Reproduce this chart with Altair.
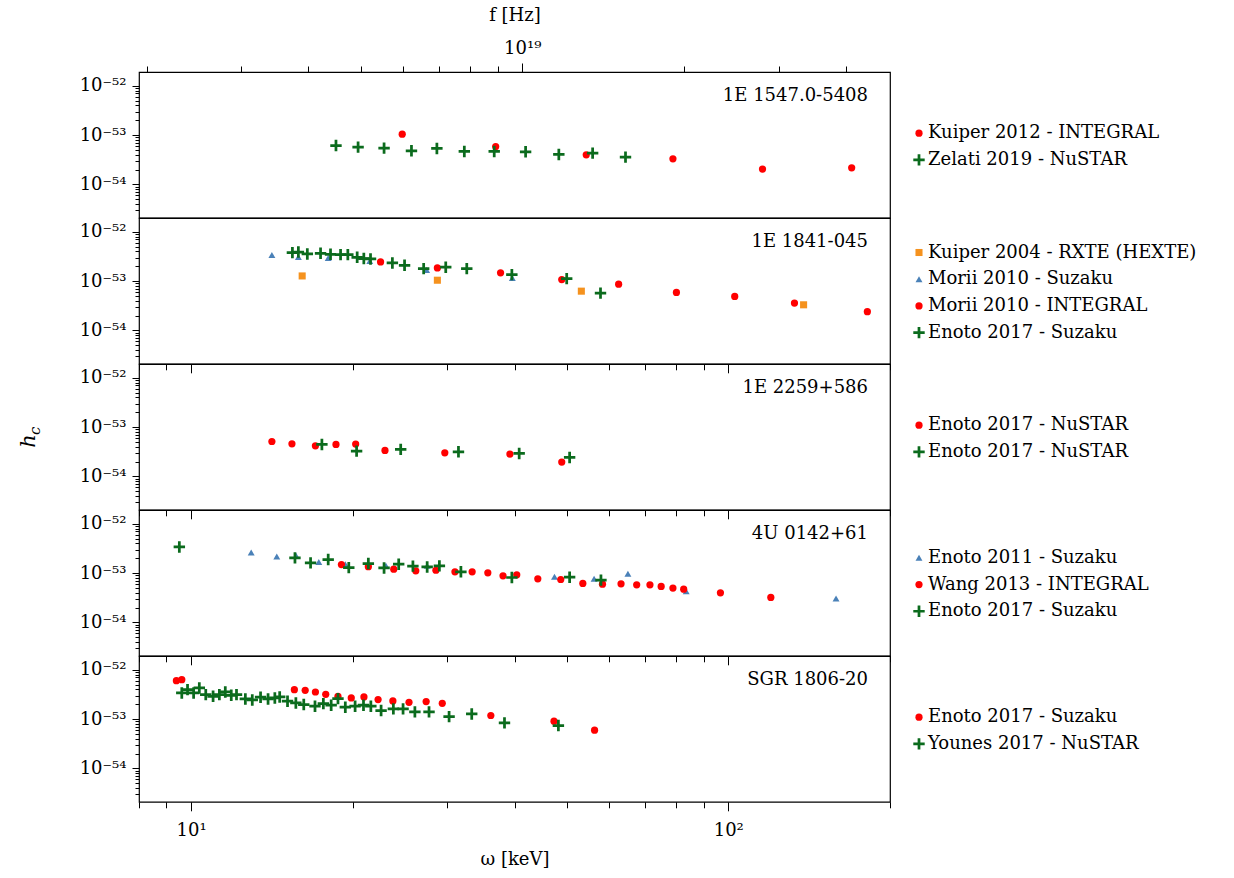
import altair as alt
import pandas as pd

# ---------------- data ----------------
PANEL_NAMES = ["1E 1547.0-5408", "1E 1841-045", "1E 2259+586", "4U 0142+61", "SGR 1806-20"]

# Panel 1: 1E 1547.0-5408
P1_KUIPER12_E = [24.72, 36.90, 54.40, 78.88, 115.8, 169.7]
P1_KUIPER12_H = [1.04e-53, 5.86e-54, 3.98e-54, 3.30e-54, 2.04e-54, 2.17e-54]
P1_ZELATI19_E = [18.61, 20.46, 22.87, 25.72, 28.68, 32.26, 36.67, 41.95, 48.37, 55.91, 64.37]
P1_ZELATI19_H = [6.14e-54, 5.69e-54, 5.43e-54, 4.80e-54, 5.35e-54, 4.65e-54, 4.65e-54,
                 4.58e-54, 4.04e-54, 4.30e-54, 3.57e-54]

# Panel 2: 1E 1841-045
P2_KUIPER04_E = [16.10, 28.74, 53.27, 138.1]
P2_KUIPER04_H = [1.27e-53, 1.04e-53, 6.24e-54, 3.30e-54]
P2_MORII_SUZ_E = [14.14, 15.84, 18.00, 21.51, 27.45, 39.63]
P2_MORII_SUZ_H = [3.38e-53, 3.08e-53, 2.94e-53, 2.56e-53, 1.68e-53, 1.16e-53]
P2_MORII_INT_E = [22.53, 28.74, 37.68, 48.98, 62.50, 80.07, 102.8, 132.8, 181.5]
P2_MORII_INT_H = [2.44e-53, 1.85e-53, 1.47e-53, 1.07e-53, 8.65e-54, 5.87e-54, 4.87e-54,
                  3.57e-54, 2.39e-54]
P2_ENOTO_SUZ_E = [15.44, 15.84, 16.46, 17.42, 18.18, 18.98, 19.58, 20.38, 20.97, 21.58,
                  23.70, 24.97, 27.10, 29.79, 32.60, 39.55, 50.03, 57.83]
P2_ENOTO_SUZ_H = [3.78e-53, 3.88e-53, 3.54e-53, 3.66e-53, 3.49e-53, 3.44e-53, 3.44e-53,
                  3.03e-53, 2.86e-53, 2.81e-53, 2.33e-53, 2.09e-53, 1.79e-53, 1.91e-53,
                  1.79e-53, 1.35e-53, 1.12e-53, 5.69e-54]

# Panel 3: 1E 2259+586
P3_ENOTO_A_E = [14.14, 15.41, 17.04, 18.61, 20.25, 22.96, 29.67, 39.22, 48.98]
P3_ENOTO_A_H = [5.10e-54, 4.58e-54, 4.17e-54, 4.44e-54, 4.51e-54, 3.36e-54, 3.01e-54,
                2.83e-54, 1.95e-54]
P3_ENOTO_B_E = [17.52, 20.33, 24.56, 31.46, 40.81, 50.66]
P3_ENOTO_B_H = [4.44e-54, 3.25e-54, 3.52e-54, 3.15e-54, 2.92e-54, 2.42e-54]

# Panel 4: 4U 0142+61
P4_ENOTO11_E = [12.94, 14.44, 15.70, 17.29, 19.37, 23.06, 27.51, 47.48, 56.26, 65.04, 83.49, 158.7]
P4_ENOTO11_H = [2.60e-53, 2.16e-53, 2.23e-53, 1.68e-53, 1.51e-53, 1.40e-53, 1.40e-53,
                8.38e-54, 7.63e-54, 9.64e-54, 4.30e-54, 3.06e-54]
P4_WANG13_E = [19.05, 21.38, 23.84, 26.20, 28.56, 30.99, 33.36, 35.68, 38.08, 40.39, 44.20,
               48.77, 53.61, 58.32, 63.15, 67.53, 71.48, 75.00, 78.88, 82.60, 96.69, 120.0]
P4_WANG13_H = [1.49e-53, 1.35e-53, 1.20e-53, 1.11e-53, 1.14e-53, 1.06e-53, 1.06e-53, 1.01e-53,
               8.77e-54, 9.20e-54, 7.63e-54, 7.40e-54, 6.15e-54, 5.96e-54, 6.05e-54, 5.78e-54,
               5.78e-54, 5.35e-54, 4.95e-54, 4.72e-54, 3.98e-54, 3.20e-54]
P4_ENOTO17_E = [9.51, 15.61, 16.69, 18.00, 19.66, 21.38, 22.87, 24.35, 25.88, 27.51, 28.99,
                31.79, 39.55, 50.66, 57.94]
P4_ENOTO17_H = [3.38e-53, 2.03e-53, 1.61e-53, 1.88e-53, 1.29e-53, 1.56e-53, 1.27e-53, 1.51e-53,
                1.38e-53, 1.33e-53, 1.40e-53, 1.06e-53, 8.13e-54, 8.25e-54, 7.18e-54]

# Panel 5: SGR 1806-20
P5_ENOTO17_E = [9.39, 9.61, 15.57, 16.31, 17.04, 17.81, 18.77, 19.87, 20.98, 22.29, 23.75,
                25.45, 27.39, 29.35, 36.14, 47.38, 56.38]
P5_ENOTO17_H = [6.00e-53, 6.29e-53, 3.95e-53, 3.83e-53, 3.54e-53, 3.18e-53, 2.90e-53, 2.68e-53,
                2.81e-53, 2.48e-53, 2.33e-53, 2.19e-53, 2.26e-53, 2.09e-53, 1.18e-53, 9.05e-54,
                5.96e-54]
P5_YOUNES17_E = [9.61, 9.85, 10.11, 10.36, 10.65, 10.99, 11.29, 11.58, 11.88, 12.15, 12.62,
                 13.00, 13.47, 13.91, 14.32, 14.62, 15.12, 15.67, 16.21, 17.01, 17.63, 18.23,
                 18.77, 19.37, 20.20, 20.94, 21.61, 22.58, 23.80, 24.81, 26.10, 27.73, 30.22,
                 33.30, 38.32, 48.28]
P5_YOUNES17_H = [3.38e-53, 3.95e-53, 3.38e-53, 4.27e-53, 3.13e-53, 2.90e-53, 3.13e-53, 3.54e-53,
                 3.03e-53, 3.13e-53, 2.56e-53, 2.44e-53, 2.77e-53, 2.56e-53, 2.68e-53, 2.81e-53,
                 2.30e-53, 2.12e-53, 1.97e-53, 1.82e-53, 2.06e-53, 1.91e-53, 2.60e-53, 1.74e-53,
                 1.82e-53, 1.91e-53, 1.82e-53, 1.49e-53, 1.61e-53, 1.61e-53, 1.40e-53, 1.40e-53,
                 1.12e-53, 1.27e-53, 8.38e-54, 7.40e-54]

# axis ticks
X_DOMAIN = [8, 200]
Y_DOMAIN = [2.1e-55, 1.9e-52]
KEV_TO_HZ = 2.418e17
X_TICKS = [8, 9, 10, 20, 30, 40, 50, 60, 70, 80, 90, 100, 200]
HZ_TICKS = [2e18, 3e18, 4e18, 5e18, 6e18, 7e18, 8e18, 9e18, 1e19, 2e19, 3e19, 4e19]
Y_TICKS = [m * 10.0 ** e for e in (-55, -54, -53) for m in range(1, 10)
           if 2.1e-55 <= m * 10.0 ** e] + [1e-52]

# styles
RED, GREEN, BLUE, ORANGE = "#ff0000", "#0b6b1d", "#4a81b8", "#f5921e"
CROSS = "M-1,-0.24H-0.24V-1H0.24V-0.24H1V0.24H0.24V1H-0.24V0.24H-1Z"
STYLE = {
    "circle": (RED, "circle", 52),
    "cross": (GREEN, CROSS, 130),
    "tri": (BLUE, "triangle-up", 48),
    "square": (ORANGE, "square", 50),
}

PANELS = [
    [("Kuiper 2012 - INTEGRAL", "circle", P1_KUIPER12_E, P1_KUIPER12_H),
     ("Zelati 2019 - NuSTAR", "cross", P1_ZELATI19_E, P1_ZELATI19_H)],
    [("Kuiper 2004 - RXTE (HEXTE)", "square", P2_KUIPER04_E, P2_KUIPER04_H),
     ("Morii 2010 - Suzaku", "tri", P2_MORII_SUZ_E, P2_MORII_SUZ_H),
     ("Morii 2010 - INTEGRAL", "circle", P2_MORII_INT_E, P2_MORII_INT_H),
     ("Enoto 2017 - Suzaku", "cross", P2_ENOTO_SUZ_E, P2_ENOTO_SUZ_H)],
    [("Enoto 2017 - NuSTAR", "circle", P3_ENOTO_A_E, P3_ENOTO_A_H),
     ("Enoto 2017 - NuSTAR", "cross", P3_ENOTO_B_E, P3_ENOTO_B_H)],
    [("Enoto 2011 - Suzaku", "tri", P4_ENOTO11_E, P4_ENOTO11_H),
     ("Wang 2013 - INTEGRAL", "circle", P4_WANG13_E, P4_WANG13_H),
     ("Enoto 2017 - Suzaku", "cross", P4_ENOTO17_E, P4_ENOTO17_H)],
    [("Enoto 2017 - Suzaku", "circle", P5_ENOTO17_E, P5_ENOTO17_H),
     ("Younes 2017 - NuSTAR", "cross", P5_YOUNES17_E, P5_YOUNES17_H)],
]

FONT = "DejaVu Serif"
FS = 18
W, H = 751, 145.8
ROW = 26.7

DECADE = "abs(log(datum.value)/LN10 - round(log(datum.value)/LN10)) < 0.001"
Y_LABEL = ("%s ? ('10⁻' + (round(log(datum.value)/LN10) == -52 ? '⁵²' : "
           "round(log(datum.value)/LN10) == -53 ? '⁵³' : '⁵⁴')) : ''") % DECADE


def tick_size(major, minor):
    return {"condition": {"test": DECADE, "value": major}, "value": minor}


def y_axis():
    return alt.Axis(values=Y_TICKS, labelExpr=Y_LABEL, title=None, domain=False, grid=False,
                    tickSize=tick_size(7, 4), tickColor="black", labelFont=FONT,
                    labelFontSize=FS, labelColor="black", labelPadding=6,
                    labelOverlap=False)


def x_axis(last):
    if last:
        return alt.Axis(values=X_TICKS, orient="bottom", domain=False, grid=False,
                        tickSize=tick_size(9, 6), tickColor="black",
                        labelExpr="datum.value == 10 ? '10¹' : datum.value == 100 ? '10²' : ''",
                        labelFont=FONT, labelFontSize=FS, labelColor="black",
                        labelPadding=11, labelOverlap=False, labelFlush=False,
                        title="ω [keV]", titleFont=FONT, titleFontSize=FS,
                        titleFontWeight="normal", titleColor="black", titlePadding=11)
    return alt.Axis(values=X_TICKS, orient="bottom", domain=False, grid=False, labels=False,
                    tickSize=tick_size(9, 6), tickColor="black", title=None)


def make_panel(i):
    series = PANELS[i]
    rows, keys, colors, shapes, sizes = [], [], [], [], []
    for j, (label, kind, es, hs) in enumerate(series):
        key = "%s|%d" % (label, j)
        keys.append(key)
        c, s, z = STYLE[kind]
        colors.append(c)
        shapes.append(s)
        sizes.append(z)
        for e, h in zip(es, hs):
            rows.append({"E": e, "h": h, "series": key})
    df = pd.DataFrame(rows)
    n = len(series)
    legend = alt.Legend(title=None, orient="none", legendX=W + 20,
                        legendY=H / 2 - n * ROW / 2 + 6,
                        labelExpr="split(datum.label, '|')[0]", labelFont=FONT,
                        labelFontSize=FS, labelColor="black", labelOffset=0,
                        rowPadding=ROW - FS, symbolStrokeWidth=0, padding=0,
                        labelLimit=400)
    last = i == len(PANELS) - 1
    xa = None if i == 0 else x_axis(last)
    pts = alt.Chart(df).mark_point(filled=True, opacity=1, strokeWidth=0).encode(
        x=alt.X("E:Q", scale=alt.Scale(type="log", domain=X_DOMAIN), axis=xa),
        y=alt.Y("h:Q", scale=alt.Scale(type="log", domain=Y_DOMAIN), axis=y_axis()),
        color=alt.Color("series:N", scale=alt.Scale(domain=keys, range=colors), legend=legend),
        shape=alt.Shape("series:N", scale=alt.Scale(domain=keys, range=shapes), legend=legend),
        size=alt.Size("series:N", scale=alt.Scale(type="ordinal", domain=keys, range=sizes),
                      legend=legend),
    )
    name = alt.Chart(pd.DataFrame({"name": [PANEL_NAMES[i]]})).mark_text(
        font=FONT, fontSize=FS, align="right", baseline="middle", color="black"
    ).encode(text="name:N", x=alt.value(W - 22), y=alt.value(24))
    layers = [pts, name]
    if i == 0:
        hz = pd.DataFrame({"f": HZ_TICKS})
        top = alt.Chart(hz).mark_point(opacity=0).encode(
            x=alt.X("f:Q", scale=alt.Scale(type="log",
                                           domain=[X_DOMAIN[0] * KEV_TO_HZ, X_DOMAIN[1] * KEV_TO_HZ]),
                    axis=alt.Axis(values=HZ_TICKS, orient="top", domain=False, grid=False,
                                  tickSize=tick_size(9, 6), tickColor="black",
                                  labelExpr="%s ? '10¹⁹' : ''" % DECADE,
                                  labelFont=FONT, labelFontSize=FS, labelColor="black",
                                  labelPadding=6, labelOverlap=False, labelFlush=False,
                                  title="f [Hz]", titleFont=FONT, titleFontSize=FS,
                                  titleFontWeight="normal", titleColor="black",
                                  titlePadding=15)))
        layers.append(top)
        return alt.layer(*layers).resolve_scale(x="independent").properties(width=W, height=H)
    if i == 2:
        hc = alt.Chart(pd.DataFrame({"t": ["h"]})).mark_text(
            font=FONT, fontSize=21, fontStyle="italic", angle=270, align="center",
            baseline="middle", color="black").encode(
            text="t:N", x=alt.value(-110), y=alt.value(H / 2 + 4))
        sub = alt.Chart(pd.DataFrame({"t": ["c"]})).mark_text(
            font=FONT, fontSize=15, fontStyle="italic", angle=270, align="center",
            baseline="middle", color="black").encode(
            text="t:N", x=alt.value(-104), y=alt.value(H / 2 - 6))
        layers += [hc, sub]
    return alt.layer(*layers).properties(width=W, height=H)


chart = alt.vconcat(*[make_panel(i) for i in range(len(PANELS))], spacing=0, bounds="flush")
chart = chart.resolve_scale(color="independent", shape="independent", size="independent")
chart = chart.properties(padding={"left": 17, "top": 5, "right": 5, "bottom": 5},
                         background="white")
chart = chart.configure(font=FONT).configure_view(stroke="black", strokeWidth=1.2)
chart = chart.configure_legend(labelFont=FONT, labelFontSize=FS, labelColor="black")
chart = chart.configure_axis(labelFont=FONT, titleFont=FONT)

chart.save("out.html", embed_options={"renderer": "svg", "actions": False})
